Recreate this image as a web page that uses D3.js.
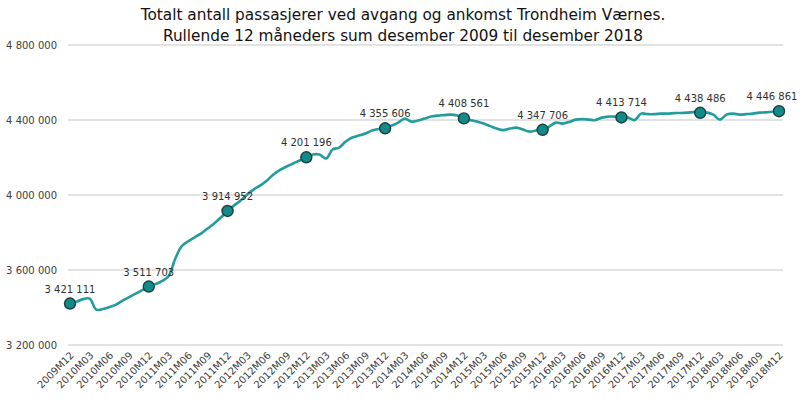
<!DOCTYPE html>
<html>
<head>
<meta charset="utf-8">
<script src="https://cdn.jsdelivr.net/npm/d3@7/dist/d3.min.js"></script>
<style>
  html, body { margin: 0; padding: 0; background: #ffffff; }
  svg { display: block; font-family: "DejaVu Sans", Verdana, sans-serif; }
</style>
</head>
<body>
<svg id="chart" width="800" height="399"></svg>
<script>
// ---- Data ----
const titleLines = [
  "Totalt antall passasjerer ved avgang og ankomst Trondheim Værnes.",
  "Rullende 12 måneders sum desember 2009 til desember 2018"
];
const years = [2009, 2010, 2011, 2012, 2013, 2014, 2015, 2016, 2017, 2018];
const monthCodes = ["M01","M02","M03","M04","M05","M06","M07","M08","M09","M10","M11","M12"];

// rolling 12-month sum, monthly 2009M12 .. 2018M12
const values = [
  3421111, 3431400, 3444700, 3447300, 3388800, 3391500, 3402100, 3415400, 3436700, 3455300, 3473900, 3492500,
  3511703, 3524500, 3540400, 3567000, 3657000, 3726600, 3753200, 3774500, 3795700, 3822300, 3848900, 3880800,
  3914952, 3944700, 3971300, 4003200, 4029800, 4051000, 4077600, 4109500, 4133500, 4152100, 4168100, 4184000,
  4201196, 4216000, 4216000, 4194700, 4242600, 4253200, 4285100, 4306400, 4317000, 4327600, 4343600, 4351600,
  4355606, 4370200, 4386100, 4407400, 4391500, 4396800, 4407400, 4418100, 4423400, 4426000, 4428700, 4423400,
  4408561, 4399300, 4391500, 4380800, 4367500, 4354200, 4346200, 4354200, 4359500, 4348900, 4338300, 4343600,
  4347706, 4364900, 4386100, 4380800, 4388800, 4402100, 4404700, 4402100, 4399400, 4412700, 4418100, 4418100,
  4413714, 4412700, 4399400, 4434000, 4431300, 4431300, 4434000, 4434000, 4436700, 4437700, 4439300, 4442000,
  4438486, 4439300, 4428700, 4402100, 4428700, 4434000, 4428700, 4431300, 4434000, 4439300, 4440500, 4444000,
  4446861
];
const markerMonths = ["2009M12","2010M12","2011M12","2012M12","2013M12","2014M12","2015M12","2016M12","2017M12","2018M12"];
const yTicks = [3200000, 3600000, 4000000, 4400000, 4800000];
const xTickLabels = [
  "2009M12","2010M03","2010M06","2010M09","2010M12","2011M03","2011M06","2011M09","2011M12",
  "2012M03","2012M06","2012M09","2012M12","2013M03","2013M06","2013M09","2013M12",
  "2014M03","2014M06","2014M09","2014M12","2015M03","2015M06","2015M09","2015M12",
  "2016M03","2016M06","2016M09","2016M12","2017M03","2017M06","2017M09","2017M12",
  "2018M03","2018M06","2018M09","2018M12"
];

// category list built from years/months (2009M12 .. 2018M12)
const months = [];
years.forEach(y => monthCodes.forEach(m => {
  const k = y + m;
  if (k >= "2009M12" && k <= "2018M12") months.push(k);
}));
const data = months.map((m, i) => ({ month: m, value: values[i] }));

// ---- Layout ----
const svg = d3.select("#chart");
const plotLeft = 70, plotRight = 779, gridLeft = 68, gridRight = 783;
const yTop = 45, yBottom = 345;

const x = d3.scalePoint().domain(months).range([plotLeft, plotRight]);
const y = d3.scaleLinear().domain([3200000, 4800000]).range([yBottom, yTop]);

const loc = d3.formatLocale({ decimal: ",", thousands: " ", grouping: [3], currency: ["", " kr"] });
const fmt = loc.format(",d");

const teal = "#229c9c";
const textColor = "#404040";

// Title
const title = svg.append("g");
titleLines.forEach((t, i) => {
  title.append("text")
    .attr("x", 403).attr("y", 20 + i * 21)
    .attr("text-anchor", "middle")
    .attr("font-size", 15)
    .attr("fill", "#111111")
    .text(t);
});
// fit first line width to ~525px
const n0 = title.select("text").node();
const w0 = n0.getComputedTextLength();
const fs = 15 * 525 / w0;
title.selectAll("text").attr("font-size", fs.toFixed(2));

// Y grid + axis
const yAxis = d3.axisLeft(y).tickValues(yTicks).tickFormat(fmt).tickSize(0).tickPadding(0);
const yg = svg.append("g").attr("transform", `translate(57,0)`).call(yAxis);
yg.select(".domain").remove();
yg.selectAll("text").attr("font-size", 10).attr("fill", textColor)
  .attr("font-family", "DejaVu Sans, sans-serif");

svg.append("g").selectAll("line").data(yTicks).join("line")
  .attr("x1", gridLeft).attr("x2", gridRight)
  .attr("y1", d => y(d)).attr("y2", d => y(d))
  .attr("stroke", "#d9d9d9").attr("stroke-width", 1.3);

// X axis
const xAxis = d3.axisBottom(x).tickValues(xTickLabels).tickSize(0).tickPadding(0);
const xg = svg.append("g").attr("transform", `translate(0,${yBottom})`).call(xAxis);
xg.select(".domain").remove();
xg.selectAll("text")
  .attr("font-size", 10)
  .attr("fill", textColor)
  .attr("font-family", "DejaVu Sans, sans-serif")
  .attr("text-anchor", "end")
  .attr("dy", null)
  .attr("y", null)
  .attr("transform", "translate(4,11) rotate(-45)");

// Line
const line = d3.line()
  .x(d => x(d.month))
  .y(d => y(d.value))
  .curve(d3.curveCatmullRom.alpha(0.5));

svg.append("path").datum(data)
  .attr("d", line)
  .attr("fill", "none")
  .attr("stroke", teal)
  .attr("stroke-width", 2.6)
  .attr("stroke-linejoin", "round");

// Markers + labels
const markers = data.filter(d => markerMonths.includes(d.month));
svg.append("g").selectAll("circle").data(markers).join("circle")
  .attr("cx", d => x(d.month)).attr("cy", d => y(d.value))
  .attr("r", 5.5)
  .attr("fill", "#138a8a")
  .attr("stroke", "#1b3f3f").attr("stroke-width", 1.4);

svg.append("g").selectAll("text").data(markers).join("text")
  .attr("x", d => Math.min(x(d.month), 772))
  .attr("y", d => y(d.value) - 11)
  .attr("text-anchor", "middle")
  .attr("font-size", 10)
  .attr("fill", "#303030")
  .text(d => fmt(d.value));
</script>
</body>
</html>
